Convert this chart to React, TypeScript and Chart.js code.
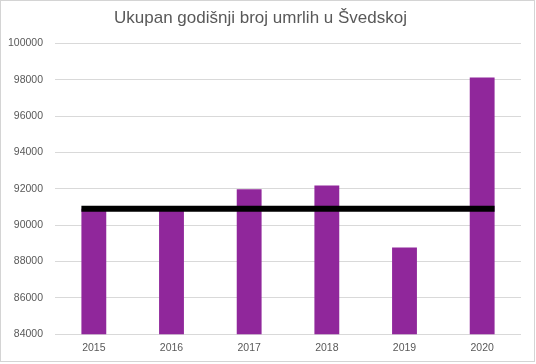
import React, { useEffect, useRef } from "react";
import { Chart, registerables } from "chart.js";

Chart.register(...registerables);

const titleText = "Ukupan godišnji broj umrlih u Švedskoj";
const years = ["2015", "2016", "2017", "2018", "2019", "2020"];
const deaths = [90907, 90982, 91972, 92185, 88766, 98124];
const averageLine = 90900;
const yMin = 84000;
const yMax = 100000;
const yStep = 2000;

const FONT = "'Liberation Sans', Arial, sans-serif";
const TEXT = "#595959";
const GRID = "#d9d9d9";
const BAR = "#90279B";

const frameAndAverage = {
  id: "frameAndAverage",
  beforeDraw(chart: any) {
    const { ctx, width, height } = chart;
    ctx.save();
    ctx.fillStyle = "#ffffff";
    ctx.fillRect(0, 0, width, height);
    ctx.restore();
  },
  afterDatasetsDraw(chart: any) {
    const { ctx } = chart;
    const meta = chart.getDatasetMeta(0);
    const els = meta.data;
    if (!els.length) return;
    const first: any = els[0];
    const last: any = els[els.length - 1];
    const x0 = first.x - first.width / 2;
    const x1 = last.x + last.width / 2;
    const y = chart.scales.y.getPixelForValue(averageLine);
    ctx.save();
    ctx.strokeStyle = "#000000";
    ctx.lineWidth = 6;
    ctx.lineCap = "butt";
    ctx.beginPath();
    ctx.moveTo(x0, y);
    ctx.lineTo(x1, y);
    ctx.stroke();
    ctx.restore();
  },
  afterDraw(chart: any) {
    const { ctx } = chart;
    ctx.save();
    ctx.strokeStyle = "#d4d4d4";
    ctx.lineWidth = 1;
    ctx.strokeRect(0.5, 0.5, 534, 361);
    ctx.restore();
  },
};

export default function App() {
  const ref = useRef<HTMLCanvasElement | null>(null);

  useEffect(() => {
    if (!ref.current) return;
    const chart = new Chart(ref.current, {
      type: "bar",
      data: {
        labels: years,
        datasets: [
          {
            label: "Broj umrlih",
            data: deaths,
            backgroundColor: BAR,
            borderWidth: 0,
            categoryPercentage: 1,
            barPercentage: 0.32,
          },
        ],
      },
      options: {
        responsive: false,
        animation: false,
        layout: { padding: { left: 0, right: 15, top: 0, bottom: 0 } },
        plugins: {
          legend: { display: false },
          tooltip: { enabled: false },
          title: {
            display: true,
            text: titleText,
            color: TEXT,
            font: { family: FONT, size: 17, weight: "normal" },
            padding: { top: 8, bottom: 14.9 },
          },
        },
        scales: {
          x: {
            grid: { display: false, drawTicks: false },
            border: { display: false },
            ticks: {
              color: TEXT,
              font: { family: FONT, size: 10.5 },
              padding: 8,
              maxRotation: 0,
            },
            afterFit: (s: any) => {
              s.height = 29.7;
            },
          },
          y: {
            min: yMin,
            max: yMax,
            grid: { color: GRID, lineWidth: 1, drawTicks: false },
            border: { display: false },
            ticks: {
              stepSize: yStep,
              color: TEXT,
              font: { family: FONT, size: 10.5 },
              padding: 12,
              callback: (v: any) => String(v),
            },
            afterFit: (s: any) => {
              s.width = 55;
            },
          },
        },
      },
      plugins: [frameAndAverage],
    });
    return () => chart.destroy();
  }, []);

  return (
    <div style={{ position: "absolute", left: 0, top: 0, width: 536, height: 364, background: "#fff" }}>
      <canvas ref={ref} width={536} height={364} />
    </div>
  );
}
